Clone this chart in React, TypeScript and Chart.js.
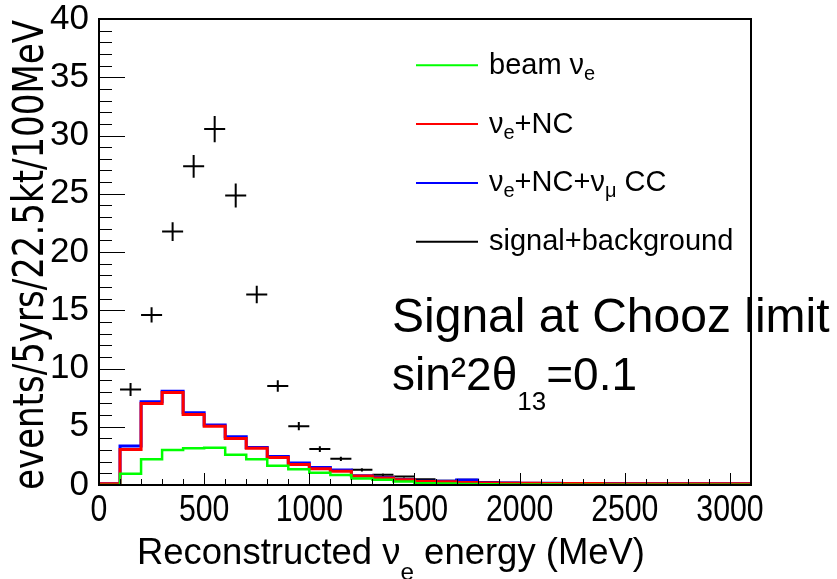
import React, { useEffect, useRef } from 'react';
import { Chart, registerables } from 'chart.js';

Chart.register(...registerables);

// ---- data ----
const binEdges = [0, 100, 200, 300, 400, 500, 600, 700, 800, 900, 1000, 1100, 1200, 1300, 1400, 1500, 1600, 1700, 1800, 1900, 2000, 2100, 2200, 2300, 2400, 2500, 2600, 2700, 2800, 2900, 3000, 3100];

const beamNue = [0, 0.97, 2.2, 3.0, 3.15, 3.2, 2.6, 2.2, 1.65, 1.35, 1.05, 0.85, 0.55, 0.45, 0.3, 0.15, 0.12, 0.08, 0.06, 0.05, 0.04, 0.04, 0.03, 0.03, 0.03, 0.02, 0.02, 0.02, 0.02, 0.02, 0.02];
const nueNC = [0.1, 3.05, 7.0, 7.95, 6.05, 5.05, 4.0, 3.15, 2.35, 1.75, 1.4, 1.18, 0.77, 0.6, 0.45, 0.3, 0.28, 0.22, 0.18, 0.16, 0.14, 0.13, 0.12, 0.12, 0.11, 0.11, 0.1, 0.1, 0.1, 0.1, 0.1];
const nueNCnumuCC = [0.1, 3.35, 7.15, 8.05, 6.2, 5.15, 4.15, 3.22, 2.45, 1.88, 1.5, 1.28, 0.8, 0.64, 0.48, 0.33, 0.32, 0.42, 0.2, 0.17, 0.15, 0.14, 0.13, 0.12, 0.12, 0.11, 0.11, 0.1, 0.1, 0.1, 0.1];

const sigCenters = [150, 250, 350, 450, 550, 650, 750, 850, 950, 1050, 1150, 1250, 1350, 1450, 1550, 1650, 1750, 1850, 1950, 2050, 2150, 2250, 2350, 2450, 2550, 2650, 2750, 2850, 2950, 3050];
const sigValues = [8.2, 14.6, 21.75, 27.35, 30.55, 24.85, 16.35, 8.5, 5.05, 3.08, 2.25, 1.3, 0.88, 0.72, 0.5, 0.36, 0.44, 0.26, 0.2, 0.16, 0.15, 0.14, 0.13, 0.13, 0.12, 0.12, 0.11, 0.11, 0.11, 0.1];
const sigErrors = [0.55, 0.66, 0.8, 0.97, 1.12, 1.02, 0.75, 0.5, 0.36, 0.25, 0.18, 0.14, 0.1, 0.09, 0.07, 0.06, 0.06, 0.05, 0.04, 0.04, 0.04, 0.04, 0.04, 0.04, 0.04, 0.03, 0.03, 0.03, 0.03, 0.03];
const sigHalfWidth = 50;

const xTickValues = [0, 500, 1000, 1500, 2000, 2500, 3000];
const yTickValues = [0, 5, 10, 15, 20, 25, 30, 35, 40];
const xMinorStep = 100;
const yMinorStep = 1;

const SANS = '"Liberation Sans", Arial, Helvetica, sans-serif';
const COND = '"DejaVu Sans Condensed", "DejaVu Sans", sans-serif';

type Seg = { t: string; sub?: boolean };

const legendItems: { color: string; segs: Seg[] }[] = [
  { color: '#00ff00', segs: [{ t: 'beam ν' }, { t: 'e', sub: true }] },
  { color: '#ff0000', segs: [{ t: 'ν' }, { t: 'e', sub: true }, { t: '+NC' }] },
  { color: '#0000ff', segs: [{ t: 'ν' }, { t: 'e', sub: true }, { t: '+NC+ν' }, { t: 'μ', sub: true }, { t: ' CC' }] },
  { color: '#000000', segs: [{ t: 'signal+background' }] },
];

function drawSegs(ctx: CanvasRenderingContext2D, x: number, y: number, segs: Seg[], size: number, subSize: number, subDy: number, family: string, draw = true) {
  let cx = x;
  for (const s of segs) {
    const fs = s.sub ? subSize : size;
    ctx.font = `${fs}px ${family}`;
    if (draw) ctx.fillText(s.t, cx, y + (s.sub ? subDy : 0));
    cx += ctx.measureText(s.t).width;
  }
  return cx - x;
}

const toSteps = (vals: number[]) => {
  const pts = vals.map((v, i) => ({ x: binEdges[i], y: v }));
  pts.push({ x: binEdges[vals.length], y: vals[vals.length - 1] });
  return pts;
};

const crossesPlugin = {
  id: 'crosses',
  beforeDatasetsDraw(chart: any) {
    const { ctx, chartArea, scales } = chart;
    const x = scales.x, y = scales.y;
    ctx.save();
    ctx.beginPath();
    ctx.rect(chartArea.left, chartArea.top, chartArea.right - chartArea.left, chartArea.bottom - chartArea.top);
    ctx.clip();
    ctx.strokeStyle = '#000';
    ctx.lineWidth = 2;
    sigCenters.forEach((c, i) => {
      const v = sigValues[i], e = sigErrors[i];
      const py = y.getPixelForValue(v);
      ctx.beginPath();
      ctx.moveTo(x.getPixelForValue(c - sigHalfWidth), py);
      ctx.lineTo(x.getPixelForValue(c + sigHalfWidth), py);
      const px = x.getPixelForValue(c);
      ctx.moveTo(px, y.getPixelForValue(v - e));
      ctx.lineTo(px, y.getPixelForValue(v + e));
      ctx.stroke();
    });
    ctx.restore();
  },
};

const framePlugin = {
  id: 'frame',
  afterDraw(chart: any) {
    const { ctx, chartArea, scales } = chart;
    const { left, right, top, bottom } = chartArea;
    const x = scales.x, y = scales.y;
    ctx.save();
    ctx.strokeStyle = '#000';
    ctx.lineWidth = 1;
    // minor + major ticks
    ctx.beginPath();
    for (let v = x.min; v <= x.max + 1e-6; v += xMinorStep) {
      const px = Math.round(x.getPixelForValue(v)) + 0.5;
      const major = xTickValues.includes(v);
      ctx.moveTo(px, bottom);
      ctx.lineTo(px, bottom - (major ? 12 : 6));
    }
    for (let v = y.min; v <= y.max + 1e-6; v += yMinorStep) {
      const py = Math.round(y.getPixelForValue(v)) + 0.5;
      const major = yTickValues.includes(v);
      ctx.moveTo(left, py);
      ctx.lineTo(left + (major ? 26 : 13), py);
    }
    ctx.stroke();
    ctx.lineWidth = 2;
    ctx.strokeRect(left, top, right - left, bottom - top);

    ctx.fillStyle = '#000';
    ctx.textBaseline = 'alphabetic';

    // x tick labels (narrow digits, placed by the x scale)
    ctx.font = `36px ${SANS}`;
    ctx.textAlign = 'center';
    x.ticks.forEach((t: any) => {
      const px = x.getPixelForValue(t.value);
      ctx.save();
      ctx.translate(px, 521);
      ctx.scale(0.84, 1);
      ctx.fillText(String(t.value), 0, 0);
      ctx.restore();
    });

    // legend
    ctx.textAlign = 'left';
    legendItems.forEach((it, i) => {
      const ly = 65.3 + i * 58.8;
      ctx.strokeStyle = it.color;
      ctx.lineWidth = 2;
      ctx.beginPath();
      ctx.moveTo(416, ly);
      ctx.lineTo(478, ly);
      ctx.stroke();
      drawSegs(ctx, 489, ly + 8.5, it.segs, 29, 20, 6, SANS);
    });

    // annotation
    ctx.font = `48px ${SANS}`;
    ctx.fillText('Signal at Chooz limit', 392, 332);
    drawSegs(ctx, 392, 390, [{ t: 'sin²2θ' }, { t: '13', sub: true }, { t: '=0.1' }], 46, 26, 20, SANS);

    // x title
    const xSegs: Seg[] = [{ t: 'Reconstructed ν' }, { t: 'e', sub: true }, { t: ' energy (MeV)' }];
    const wx = drawSegs(ctx, 0, 0, xSegs, 36, 24, 16, SANS, false);
    ctx.save();
    ctx.translate(137, 564);
    ctx.scale(508 / wx, 1);
    drawSegs(ctx, 0, 0, xSegs, 36, 24, 16, SANS);
    ctx.restore();

    // y title
    ctx.save();
    ctx.font = `40px ${COND}`;
    const yt = 'events/5yrs/22.5kt/100MeV';
    const wy = ctx.measureText(yt).width;
    ctx.translate(43, 255);
    ctx.rotate(-Math.PI / 2);
    ctx.scale(470 / wy, 1.08);
    ctx.textAlign = 'center';
    ctx.fillText(yt, 0, 0);
    ctx.restore();

    ctx.restore();
  },
};

export default function App() {
  const ref = useRef<HTMLCanvasElement>(null);
  useEffect(() => {
    document.body.style.margin = '0';
    const canvas = ref.current!;
    const chart = new Chart(canvas, {
      type: 'line',
      data: {
        datasets: [
          { label: 'beam νe', data: toSteps(beamNue), borderColor: '#00ff00', borderWidth: 2.5, stepped: true, pointRadius: 0, fill: false },
          { label: 'νe+NC', data: toSteps(nueNC), borderColor: '#ff0000', borderWidth: 3, stepped: true, pointRadius: 0, fill: false },
          { label: 'νe+NC+νμ CC', data: toSteps(nueNCnumuCC), borderColor: '#0000ff', borderWidth: 3, stepped: true, pointRadius: 0, fill: false },
        ],
      } as any,
      options: {
        animation: false,
        responsive: false,
        maintainAspectRatio: false,
        layout: { padding: { left: 0, right: 86, top: 19, bottom: 0 } },
        scales: {
          x: {
            type: 'linear',
            min: 0,
            max: 3100,
            afterBuildTicks: (s: any) => { s.ticks = xTickValues.map((v) => ({ value: v })); },
            afterFit: (s: any) => { s.height = 94; s.paddingLeft = 0; s.paddingRight = 0; },
            grid: { display: false, drawTicks: false },
            border: { display: false },
            ticks: { display: false },
          },
          y: {
            type: 'linear',
            min: 0,
            max: 40,
            afterBuildTicks: (s: any) => { s.ticks = yTickValues.map((v) => ({ value: v })); },
            afterFit: (s: any) => { s.width = 99; s.paddingTop = 0; s.paddingBottom = 0; },
            grid: { display: false, drawTicks: false },
            border: { display: false },
            ticks: { font: { family: SANS, size: 35 }, color: '#000', padding: 10, autoSkip: false, callback: (v: any) => String(v) },
          },
        },
        plugins: { legend: { display: false }, tooltip: { enabled: false } },
      } as any,
      plugins: [crossesPlugin, framePlugin],
    });
    return () => chart.destroy();
  }, []);
  return <canvas ref={ref} width={837} height={579} style={{ display: 'block', width: '837px', height: '579px' }} />;
}
